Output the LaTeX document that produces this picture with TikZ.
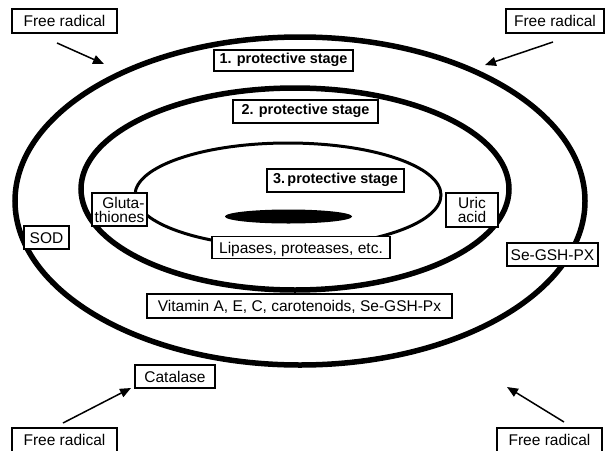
\documentclass[tikz,border=0pt]{standalone}
\usepackage{fontspec}
\setmainfont{Liberation Sans}
\usetikzlibrary{arrows.meta}
\begin{document}
\begin{tikzpicture}[x=1pt,y=-1pt,
  box/.style={draw, line width=1.3pt, fill=white, inner sep=0pt, font=\fontsize{15.5}{13}\selectfont, text height=11.1pt, text depth=0pt},
  twobox/.style={draw, line width=1.3pt, fill=white, inner sep=0pt, font=\fontsize{15.5}{14}\selectfont},
  stagebox/.style={draw, line width=1.3pt, fill=white, inner sep=0pt, font=\fontsize{14.4}{14}\selectfont\bfseries, text height=10.3pt, text depth=5pt},
  ring/.style={line width=5.5pt},
  thinring/.style={line width=3pt},
  arr/.style={line width=1.5pt, -{Triangle[length=11pt,width=9pt]}}]
\useasboundingbox (0,0) rectangle (610,450);
\fill[white] (0,0) rectangle (610,450);
% rings
\draw[ring] (300,201) ellipse [x radius=285pt, y radius=164pt];
\draw[ring] (295,189) ellipse [x radius=214pt, y radius=101pt];
\draw[thinring] (288,195) ellipse [x radius=153pt, y radius=52pt];
\fill[black] (288.5,216.5) ellipse [x radius=63.5pt, y radius=7pt];
% stage labels
\node[stagebox, minimum width=139pt, minimum height=21pt] (s1) at (283.5,60.5) {1. protective stage};
\node[stagebox, minimum width=145pt, minimum height=23pt] (s2) at (305.5,111.5) {2. protective stage};
\node[stagebox, minimum width=137pt, minimum height=23pt] (s3) at (335.5,180.5) {3.\,protective stage};
% substance labels
\node[box, minimum width=105pt, minimum height=24pt] (fr1) at (64.5,21) {Free radical};
\node[box, minimum width=98pt, minimum height=24pt] (fr2) at (555,21) {Free radical};
\node[box, minimum width=105pt, minimum height=24pt] (fr3) at (64.5,440) {Free radical};
\node[box, minimum width=105pt, minimum height=24pt] (fr4) at (549.5,440) {Free radical};
\node[box, minimum width=80pt, minimum height=23pt] (cat) at (175,376.5) {Catalase};
\node[box, minimum width=45pt, minimum height=23pt] (sod) at (46.5,237.5) {SOD};
\node[twobox, align=right, minimum width=55pt, minimum height=33pt] (glu) at (119.5,209.5) {Gluta-\\thiones};
\node[twobox, align=center, minimum width=52pt, minimum height=34pt] (uric) at (472,210) {Uric\\acid};
\node[box, minimum width=91pt, minimum height=23pt] (se) at (552.5,254.5) {Se-GSH-PX};
\node[box, minimum width=305pt, minimum height=24pt] (vit) at (299.5,306) {Vitamin A, E, C, carotenoids, Se-GSH-Px};
\node[box, minimum width=178pt, minimum height=22pt] (lip) at (301,247.5) {Lipases, proteases, etc.};
% arrows
\coordinate (a1s) at (57,43);   \coordinate (a1e) at (104,64);
\coordinate (a2s) at (553,42);  \coordinate (a2e) at (485,65);
\coordinate (a3s) at (63,423);  \coordinate (a3e) at (131,388);
\coordinate (a4s) at (564,422); \coordinate (a4e) at (507,387);
\draw[arr] (a1s) -- (a1e);
\draw[arr] (a2s) -- (a2e);
\draw[arr] (a3s) -- (a3e);
\draw[arr] (a4s) -- (a4e);
\end{tikzpicture}
\end{document}
